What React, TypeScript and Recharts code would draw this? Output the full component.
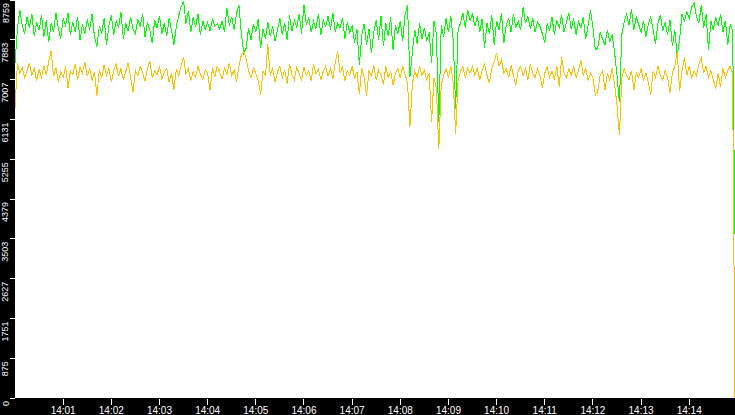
import React from "react";
import { LineChart, Line, XAxis, YAxis, CartesianGrid } from "recharts";

// samples every 3 s from 14:00:00
const STEP = 3;

const green = [
  7370, 8120, 8540, 8200, 8010, 8380, 8150, 8460, 7960, 8280,
  8090, 8420, 7940, 8310, 7830, 8250, 8060, 8480, 8130, 7910,
  8350, 8200, 8470, 7990, 8280, 8060, 8390, 7880, 8220, 8010,
  8330, 8110, 8450, 7950, 7730, 8180, 8040, 8360, 7770, 8200,
  8420, 7990, 8300, 8150, 8490, 7900, 8240, 8070, 8380, 8120,
  8010, 8340, 8180, 8460, 7950, 8270, 8090, 7810, 8310, 8150,
  8400, 8020, 8260, 7960, 8350, 8100, 7770, 8180, 8420, 8610,
  8740, 8240, 8520, 8050, 8380, 8160, 8450, 7990, 8300, 8110,
  8270, 8080, 8350, 8180, 8240, 8120, 8300, 8050, 8580, 8200,
  8390, 8100, 8470, 8650, 8010, 7590, 7700, 8150, 7880, 8230,
  8060, 8330, 7710, 8120, 7900, 8280, 7960, 8180, 7850, 8100,
  8350, 7990, 8250, 7880, 8420, 8070, 8310, 8160, 8440, 8020,
  8650, 8210, 8380, 8050, 8290, 8130, 8450, 7980, 8320, 8180,
  8400, 8100, 8470, 8060, 8250, 8150, 8370, 7900, 8280, 8040,
  8200, 7820, 8120, 7330, 7980, 8240, 7760, 8130, 7590, 8060,
  8310, 7880, 8400, 7740, 8250, 7960, 8380, 7660, 8200, 8020,
  8300, 7850, 8450, 8650, 7060, 7600, 8100, 7800, 8250, 7900,
  8150, 7850, 8050, 7370, 8300, 8000, 6070, 8210, 7950, 8350,
  8050, 8400, 7880, 6370, 8100, 8250, 8480, 8150, 8540, 8300,
  8450, 8180, 8400, 8050, 8350, 7700, 8250, 8020, 8420, 7770,
  8300, 8100, 8480, 7810, 8200, 8370, 8050, 8450, 8150, 8300,
  8100, 8600, 8250, 8400, 8130, 8350, 8050, 8280, 8180, 8020,
  7810, 8240, 8100, 8380, 8000, 8300, 8150, 8420, 8060, 8260,
  8470, 8120, 8350, 8000, 8280, 8150, 8380, 7900, 8200, 8540,
  8150, 7660, 7700, 8050, 7900, 7770, 8100, 7850, 8000, 7600,
  7100, 6510, 8000, 8280, 8450, 8200, 8550, 8100, 8380, 8220,
  8050, 8300, 7950, 8220, 8380, 8100, 7800, 8250, 8430, 8080,
  8270, 7990, 8320, 7750, 8100, 7550, 7900, 8450, 8300, 8500,
  8350, 8600, 8700, 8400, 8250, 8650, 8150, 8450, 7660, 8300,
  8100, 8380, 8200, 8450, 8050, 8300, 7780, 8220, 8090, 3600,
];

const yellow = [
  6380, 7370, 7150, 7280, 7050, 7200, 7380, 7100, 7250, 6980,
  7230, 7060, 7310, 7120, 7400, 7640, 7080, 7260, 6950, 7180,
  7050, 7300, 6820, 7200, 7120, 7350, 7000, 7280, 7150, 7400,
  7080, 7250, 6990, 7180, 6650, 7220, 7050, 7330, 7100, 7260,
  6950, 7200, 7350, 7080, 7250, 7000, 7190, 7380, 7060, 6740,
  7210, 7090, 7300, 7150, 6980, 7250, 7420, 7050, 7200, 7110,
  7300, 7020, 7180, 7260, 6950, 7150, 6780, 7240, 7090, 7330,
  7500, 7120, 7250, 6980, 7180, 7060, 7300, 7130, 7000, 7220,
  7150, 6780, 7250, 7080, 7300, 7170, 7020, 7260, 7120, 7380,
  7100, 7220, 6960, 7300, 7550, 7620, 7480, 7200, 7050, 7260,
  7150, 6990, 6670, 7200, 7080, 7780, 7100, 7250, 6950, 7180,
  7300, 7050, 7220, 6920, 7350, 7120, 7000, 7270, 7150, 6990,
  7280, 7100, 7200, 6980, 7350, 7130, 7240, 7000, 7180, 7300,
  7090, 7250, 7020, 7380, 7640, 7150, 7280, 6980, 7200, 7100,
  7300, 7050, 7180, 6700, 7250, 7050, 6650, 7200, 7100, 7320,
  7000, 7220, 7100, 6900, 7300, 7050, 7200, 6880, 7150, 7250,
  7050, 7300, 7120, 6950, 5960, 6900, 7200, 7050, 7300, 7100,
  7200, 7000, 7150, 6080, 7050, 6800, 5470, 6900, 7100, 7250,
  7050, 7300, 6950, 5820, 7000, 7180, 7300, 7050, 7250, 7150,
  7300, 7100, 7250, 7000, 7200, 7350, 7100, 6930, 7250, 7400,
  7600, 7300, 7450, 7150, 7250, 7050, 7320, 7100, 6890, 7200,
  7300, 7100, 7250, 7000, 7350, 7150, 7050, 7250, 7100, 6820,
  7150, 7280, 7050, 7200, 7000, 7300, 6850, 7500, 7150, 7050,
  7250, 7100, 7300, 7050, 7200, 7440, 7100, 7250, 6980, 7150,
  7050, 6670, 6750, 7100, 7200, 6780, 7150, 7000, 7250, 6900,
  6450, 5780, 7050, 7250, 7100, 7000, 7200, 6780, 7150, 7050,
  7250, 7000, 7150, 6950, 6670, 7200, 7050, 7300, 7100, 7000,
  7200, 7050, 6720, 7150, 7300, 7620, 6760, 7200, 7500, 7100,
  7300, 7050, 7200, 7100, 7350, 7480, 7150, 7300, 7050, 7200,
  7000, 6800, 7150, 6850, 7250, 7050, 7200, 7300, 7150, 0,
];

const yTicks = [0, 875, 1751, 2627, 3503, 4379, 5255, 6131, 7007, 7883, 8759];
const xTicks = [60, 120, 180, 240, 300, 360, 420, 480, 540, 600, 660, 720, 780, 840];
const xTickLabels = [
  "14:01", "14:02", "14:03", "14:04", "14:05", "14:06", "14:07",
  "14:08", "14:09", "14:10", "14:11", "14:12", "14:13", "14:14",
];

const data = green.map((g, i) => ({ t: i * STEP, green: g, yellow: yellow[i] }));

const FONT = "'Liberation Sans', Arial, sans-serif";

function YTick({ y, payload }: any) {
  const ty = y + 3;
  return (
    <g>
      <line x1={10} x2={15} y1={y} y2={y} stroke="#fff" shapeRendering="crispEdges" />
      <text
        x={8.5}
        y={ty}
        transform={`rotate(-90, 8.5, ${ty})`}
        textAnchor="end"
        fill="#fff"
        fontSize={9}
        fontFamily={FONT}
      >
        {payload.value}
      </text>
    </g>
  );
}

function XTick({ x, payload }: any) {
  const idx = xTicks.indexOf(payload.value);
  return (
    <g>
      <line x1={x} x2={x} y1={399} y2={405} stroke="#fff" shapeRendering="crispEdges" />
      <text x={x} y={414} textAnchor="middle" fill="#fff" fontSize={10} fontFamily={FONT}>
        {xTickLabels[idx]}
      </text>
    </g>
  );
}

export default function App() {
  return (
    <div style={{ width: 735, height: 415, background: "#000" }}>
      <style>{`body{margin:0} .recharts-line-curve{shape-rendering:crispEdges}`}</style>
      <LineChart width={735} height={415} data={data} margin={{ top: 0, right: 0, bottom: 0, left: 0 }}>
        <CartesianGrid horizontal={false} vertical={false} fill="#ffffff" />
        <XAxis
          dataKey="t"
          type="number"
          domain={[0, 897]}
          ticks={xTicks}
          interval={0}
          height={17}
          axisLine={false}
          tickLine={false}
          tick={<XTick />}
        />
        <YAxis
          type="number"
          domain={[0, 8759]}
          ticks={yTicks}
          interval={0}
          width={15}
          axisLine={false}
          tickLine={false}
          tick={<YTick />}
        />
        <Line
          type="linear"
          dataKey="green"
          stroke="#00ff00"
          strokeWidth={1}
          dot={false}
          isAnimationActive={false}
        />
        <Line
          type="linear"
          dataKey="yellow"
          stroke="#ffc000"
          strokeWidth={1}
          dot={false}
          isAnimationActive={false}
        />
      </LineChart>
    </div>
  );
}
